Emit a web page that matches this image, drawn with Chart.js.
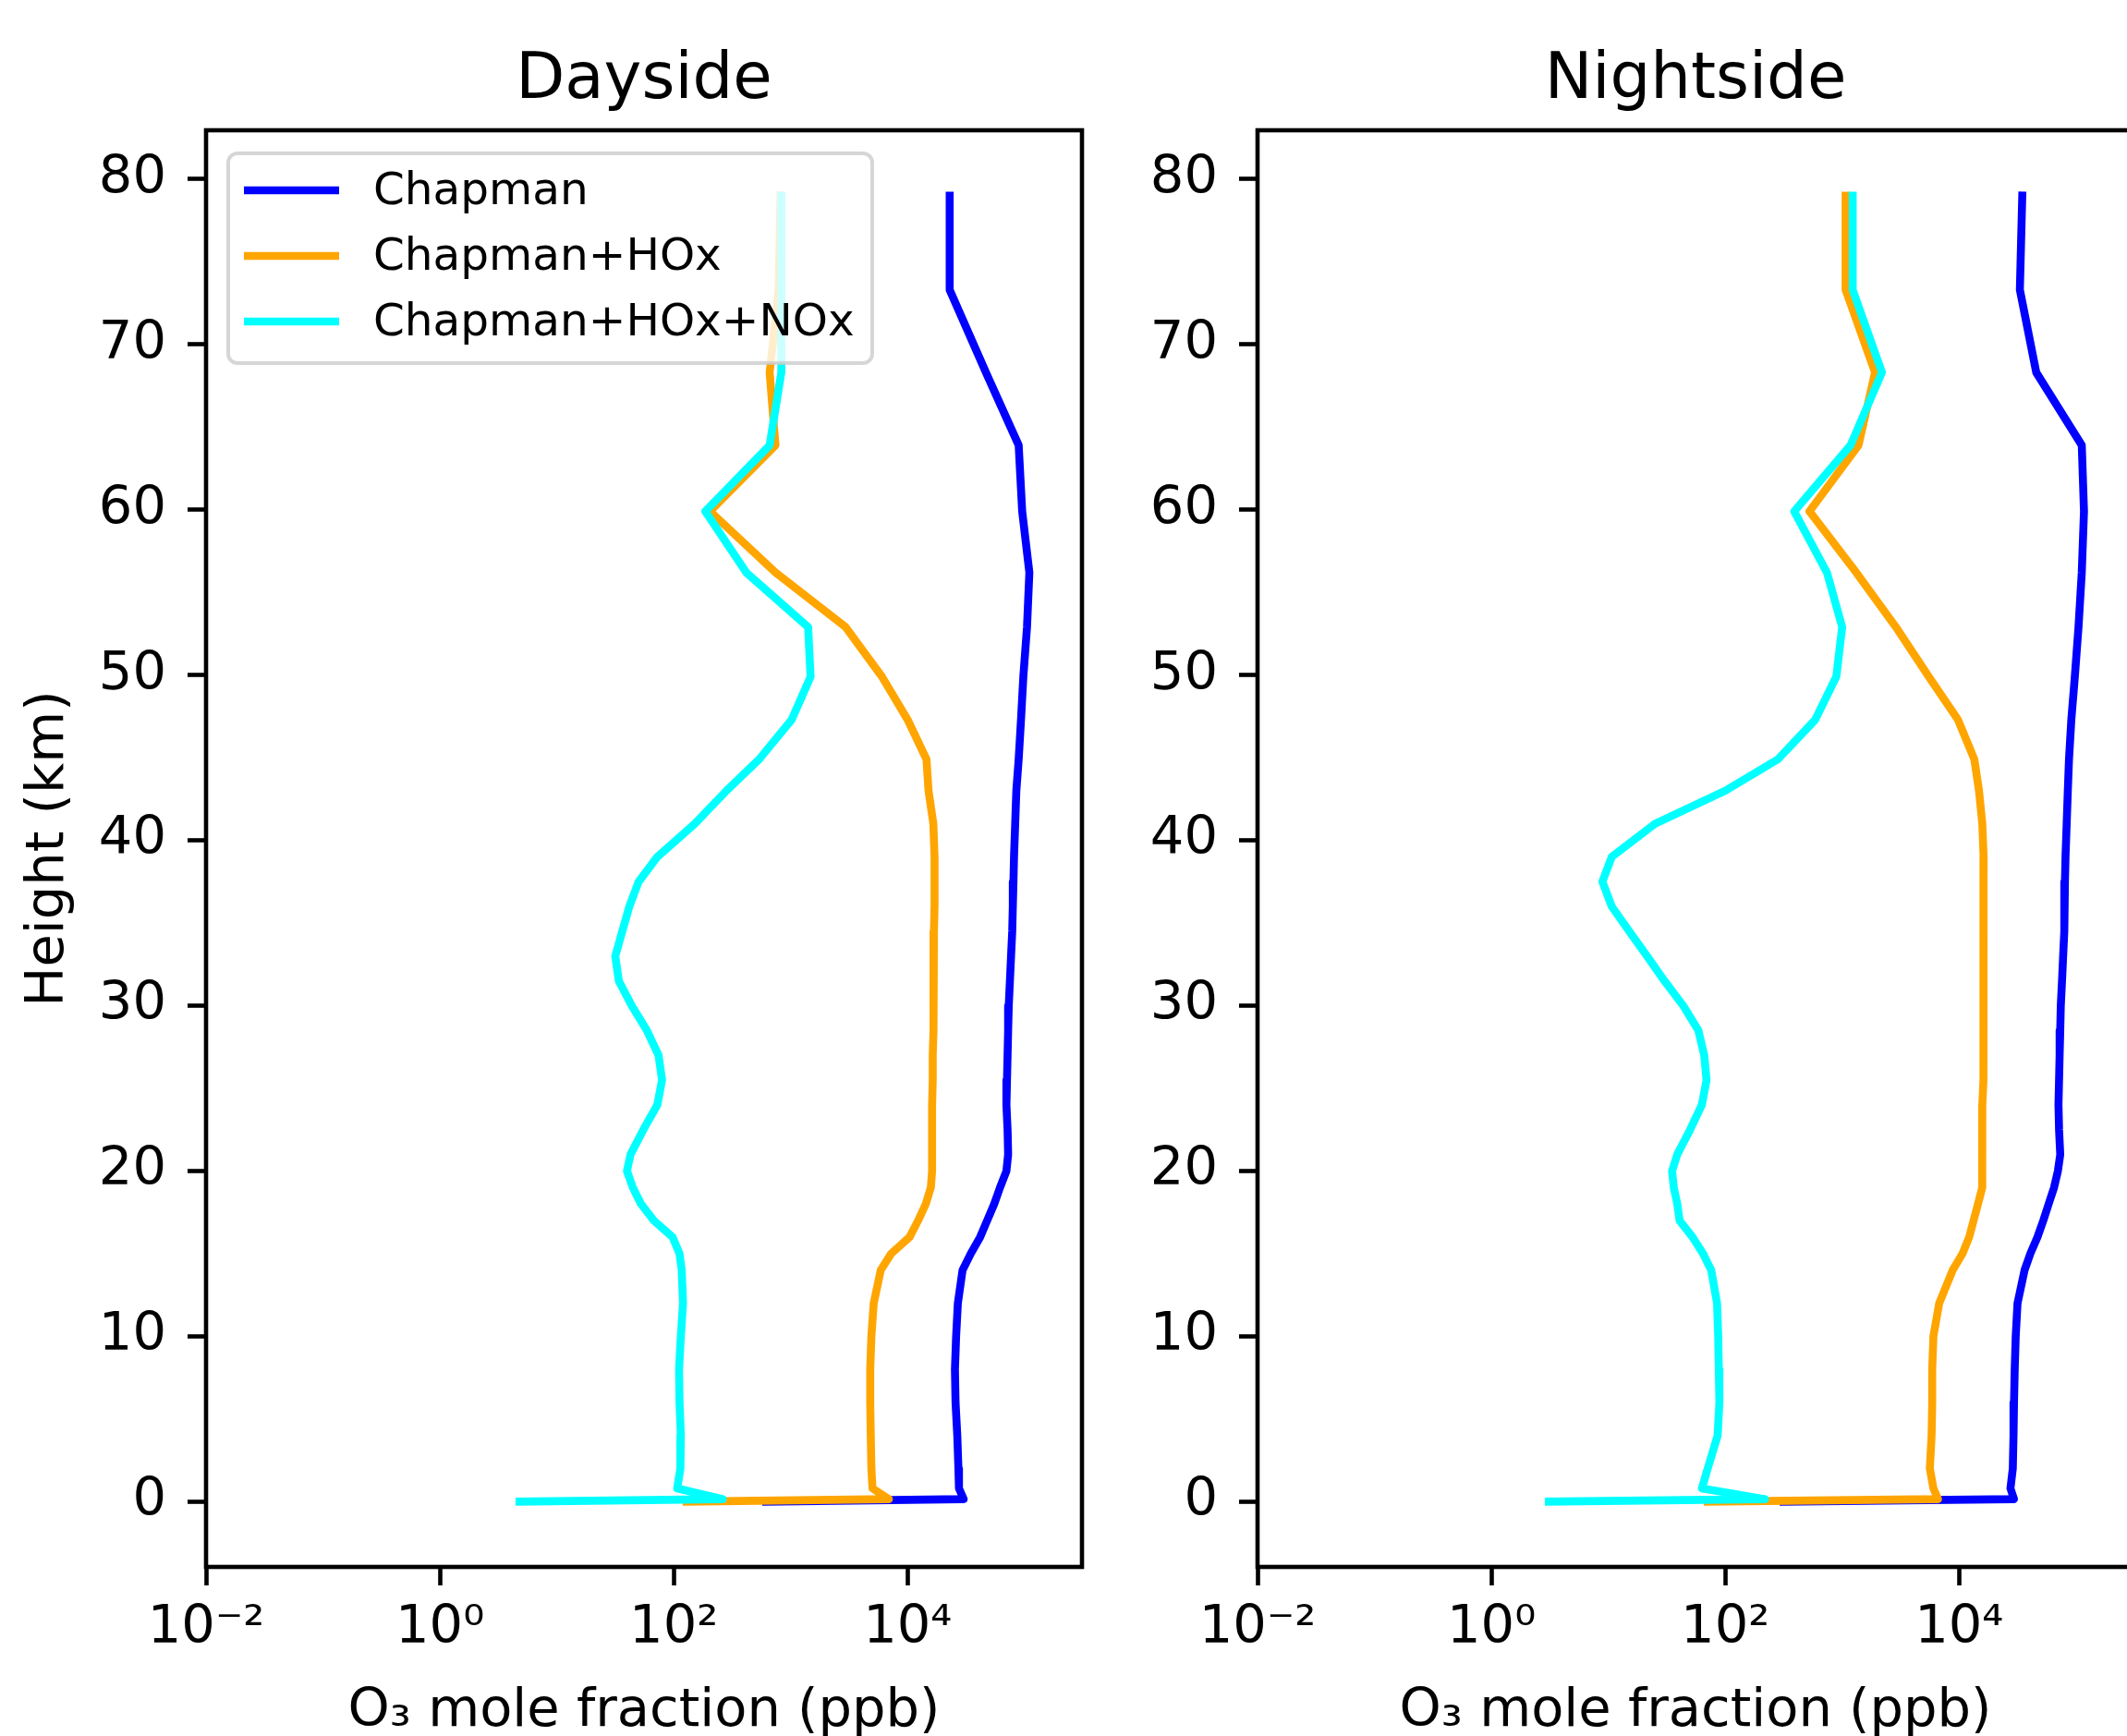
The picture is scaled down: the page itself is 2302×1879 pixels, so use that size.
<!DOCTYPE html>
<html lang="en">
<head>
<meta charset="UTF-8">
<title>O3 mole fraction profiles</title>
<script src="https://cdn.jsdelivr.net/npm/chart.js@4.4.0/dist/chart.umd.min.js"></script>
<style>
  html, body { margin: 0; padding: 0; background: #fff; overflow: hidden; width: 2302px; height: 1879px; }
  .panel { position: absolute; top: 0; width: 1190px; height: 1879px; }
  #day { left: 0; }
  #night { left: 1138px; }
</style>
</head>
<body>
<div class="panel" id="day"><canvas id="dayChart"></canvas></div>
<div class="panel" id="night"><canvas id="nightChart"></canvas></div>

<script>
// heights (km), shared by every profile
const heights = [79, 73.3, 68.3, 63.9, 59.9, 56.2, 52.9, 49.9, 47.3, 44.9,
                 43, 41, 39, 37.5, 36, 34.5, 33, 31.5, 30, 28.5,
                 27, 25.5, 24, 22.5, 21, 20, 19, 18, 17, 16,
                 15, 14, 12, 10, 8, 6, 4, 2, 0.8, 0.15, 0];

// O3 mole fraction (ppb), dayside
const dayChapman = [22900, 22900, 46800, 89100, 95500, 110000, 105000, 97700, 93300, 89100,
                    85100, 83200, 81300, 80400, 79400, 78500, 76700, 75000, 73300, 72400,
                    71600, 70800, 70000, 71600, 72400, 70000, 61700, 55000, 47900, 41700,
                    34700, 29500, 26900, 26000, 25400, 25700, 26600, 27200, 27500, 30200, 617];
const dayHOx = [820, 790, 661, 741, 204, 741, 2950, 6030, 10000, 14500,
                15100, 16600, 17000, 17000, 17000, 16800, 16800, 16600, 16600, 16600,
                16400, 16400, 16200, 16200, 16200, 16200, 15800, 14300, 12300, 10400,
                7240, 5890, 5130, 4900, 4790, 4790, 4840, 4900, 5010, 6920, 129];
const dayNOx = [832, 832, 832, 661, 186, 417, 1410, 1480, 1020, 537,
                282, 151, 72.4, 50.1, 41.7, 36.3, 31.6, 33.9, 43.7, 58.9,
                74.1, 79.4, 72.4, 55.0, 42.7, 39.8, 44.7, 52.5, 67.6, 97.7,
                112, 117, 120, 115, 111, 112, 115, 114, 107, 263, 4.8];

// O3 mole fraction (ppb), nightside
const nightChapman = [34700, 33100, 45700, 112000, 117000, 112000, 105000, 97700, 91200, 87100,
                      85100, 83200, 81300, 80400, 79400, 79400, 77600, 75900, 74100, 73300,
                      72400, 71600, 70800, 71600, 73300, 70000, 64900, 58300, 52500, 46800,
                      40700, 36300, 31600, 30500, 29900, 29500, 29200, 28800, 27500, 29500, 316];
const nightHOx = [1070, 1070, 1910, 1380, 525, 1320, 2880, 5500, 9770, 13500,
                  14800, 15800, 16200, 16200, 16200, 16200, 16200, 16200, 16200, 16200,
                  16000, 16000, 15800, 15800, 15800, 15800, 15700, 14500, 13300, 12200,
                  10700, 8810, 6760, 6030, 5890, 5890, 5820, 5620, 6030, 6610, 70.8];
const nightNOx = [1230, 1230, 2190, 1180, 389, 741, 1000, 891, 589, 282,
                  100, 25.1, 10.7, 8.9, 10.7, 15.1, 21.4, 30.2, 43.7, 58.9,
                  66.1, 69.2, 63.1, 50.1, 38.9, 35.1, 36.3, 38.9, 40.7, 52.5,
                  64.6, 75.9, 85.1, 87.1, 88.1, 89.1, 86.1, 70.8, 63.1, 219, 3.1];

const seriesLabels = ['Chapman', 'Chapman+HOx', 'Chapman+HOx+NOx'];
const panelTitles = ['Dayside', 'Nightside'];
const xTickValues = [0.01, 1, 100, 10000];
const xTickLabels = ['10\u207B\u00B2', '10\u2070', '10\u00B2', '10\u2074'];
const yTickValues = [0, 10, 20, 30, 40, 50, 60, 70, 80];
const xTitle = 'O\u2083 mole fraction (ppb)';
const yTitle = 'Height (km)';

const colors = ['#0000ff', '#ffa500', '#00ffff'];
const FONT = "'DejaVu Sans'";
Chart.defaults.font.family = FONT;
Chart.defaults.color = '#000';

// black box round the plot area, like matplotlib spines
const frame = {
  id: 'frame',
  afterDatasetsDraw(chart) {
    const { ctx, chartArea: a } = chart;
    ctx.save();
    ctx.strokeStyle = '#000';
    ctx.lineWidth = 4.6;
    ctx.strokeRect(a.left, a.top, a.right - a.left, a.bottom - a.top);
    ctx.restore();
  }
};

// legend box inside the plot area, top left
const boxLegend = {
  id: 'boxLegend',
  afterDatasetsDraw(chart) {
    const { ctx, chartArea: a } = chart;
    const x0 = a.left + 24, y0 = a.top + 25, w = 697, h = 227;
    ctx.save();
    ctx.beginPath();
    ctx.roundRect(x0, y0, w, h, 10);
    ctx.fillStyle = 'rgba(255,255,255,0.8)';
    ctx.fill();
    ctx.lineWidth = 4;
    ctx.strokeStyle = 'rgba(204,204,204,0.8)';
    ctx.stroke();
    ctx.font = '48.5px ' + FONT;
    ctx.textBaseline = 'middle';
    chart.data.datasets.forEach((ds, i) => {
      const y = y0 + 40 + i * 71;
      ctx.beginPath();
      ctx.moveTo(x0 + 17, y);
      ctx.lineTo(x0 + 120, y);
      ctx.strokeStyle = ds.borderColor;
      ctx.lineWidth = ds.borderWidth;
      ctx.lineCap = 'butt';
      ctx.stroke();
      ctx.fillStyle = '#000';
      ctx.fillText(ds.label, x0 + 157, y + 2);
    });
    ctx.restore();
  }
};

function makeChart(id, title, series, showLegend, showYTitle) {
  const datasets = series.map((vals, i) => ({
    label: seriesLabels[i],
    data: vals.map((v, k) => ({ x: v, y: heights[k] })),
    borderColor: colors[i],
    backgroundColor: colors[i],
    borderWidth: 8.6,
    borderJoinStyle: 'round',
    borderCapStyle: 'square',
    pointRadius: 0,
    tension: 0,
    fill: false,
    order: 2 - i
  }));

  return new Chart(document.getElementById(id), {
    type: 'line',
    data: { datasets },
    plugins: showLegend ? [frame, boxLegend] : [frame],
    options: {
      responsive: true,
      maintainAspectRatio: false,
      animation: false,
      events: [],
      layout: { padding: { left: 0, right: 19, top: 0, bottom: 0 } },
      plugins: {
        legend: { display: false },
        tooltip: { enabled: false },
        title: {
          display: true,
          text: title,
          fullSize: false,
          color: '#000',
          font: { size: 69, weight: 'normal', lineHeight: 1.2 },
          padding: { top: 46.2, bottom: 12 }
        }
      },
      scales: {
        x: {
          type: 'logarithmic',
          min: 0.01,
          max: 310000,
          afterFit: s => { s.height = 183; },
          afterBuildTicks: s => { s.ticks = xTickValues.map(v => ({ value: v })); },
          ticks: {
            callback: (v, i) => xTickLabels[i],
            font: { size: 57.5 },
            color: '#000',
            padding: 12.5,
            maxRotation: 0,
            autoSkip: false
          },
          grid: { drawOnChartArea: false, tickLength: 20, tickWidth: 4.6, tickColor: '#000' },
          border: { display: false },
          title: {
            display: true,
            text: xTitle,
            color: '#000',
            font: { size: 57.5, lineHeight: 0.9 },
            padding: { top: 0, bottom: 0.4 }
          }
        },
        y: {
          type: 'linear',
          min: -3.95,
          max: 82.95,
          afterFit: s => { s.width = 223; },
          afterBuildTicks: s => { s.ticks = yTickValues.map(v => ({ value: v })); },
          ticks: { font: { size: 57.5 }, color: '#000', padding: 23 },
          grid: { drawOnChartArea: false, tickLength: 20, tickWidth: 4.6, tickColor: '#000' },
          border: { display: false },
          title: {
            display: showYTitle,
            text: yTitle,
            color: '#000',
            font: { size: 57.5, lineHeight: 1.2 },
            padding: { top: 19, bottom: 0 }
          }
        }
      }
    }
  });
}

makeChart('dayChart', panelTitles[0], [dayChapman, dayHOx, dayNOx], true, true);
makeChart('nightChart', panelTitles[1], [nightChapman, nightHOx, nightNOx], false, false);
</script>
</body>
</html>
